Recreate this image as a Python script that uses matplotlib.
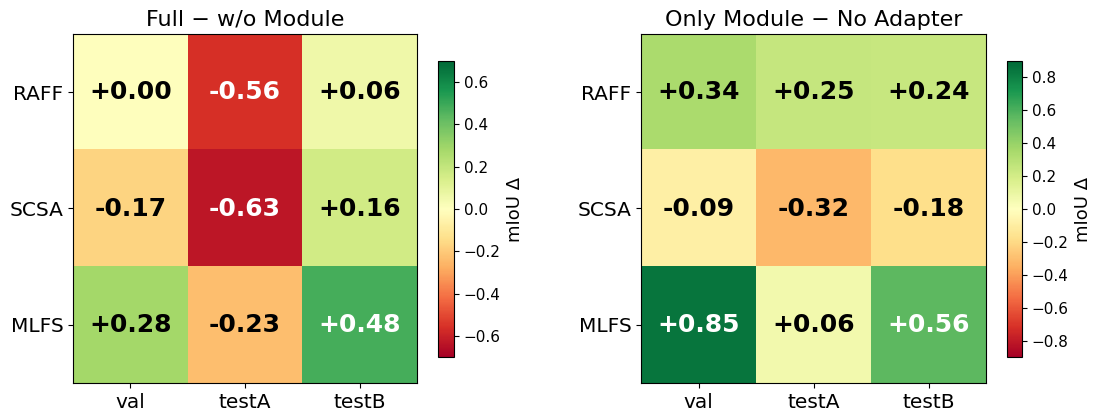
import numpy as np
import matplotlib
matplotlib.use("Agg")
import matplotlib.pyplot as plt

ROWS = ["RAFF", "SCSA", "MLFS"]
COLS = ["val", "testA", "testB"]
TITLES = ["Full \u2212 w/o Module", "Only Module \u2212 No Adapter"]
FULL_MINUS_WO = [[0.00, -0.56, 0.06],
                 [-0.17, -0.63, 0.16],
                 [0.28, -0.23, 0.48]]
ONLY_MINUS_NO = [[0.34, 0.25, 0.24],
                 [-0.09, -0.32, -0.18],
                 [0.85, 0.06, 0.56]]

W, H = 1096, 419
fig = plt.figure(figsize=(W / 100, H / 100), dpi=100)


def px(x0, y0, x1, y1):
    return [x0 / W, 1 - y1 / H, (x1 - x0) / W, (y1 - y0) / H]


boxes = [(px(73, 34, 417, 383), px(438, 61, 454, 357)),
         (px(641, 34, 986, 383), px(1007, 61, 1022, 357))]

for data, title, (abox, cbox) in zip([FULL_MINUS_WO, ONLY_MINUS_NO], TITLES, boxes):
    d = np.array(data)
    vmax = np.ceil(np.abs(d).max() * 10) / 10
    ax = fig.add_axes(abox)
    cax = fig.add_axes(cbox)
    im = ax.imshow(d, cmap="RdYlGn", vmin=-vmax, vmax=vmax, aspect="auto")
    for i in range(d.shape[0]):
        for j in range(d.shape[1]):
            v = d[i, j]
            ax.text(j, i, f"{v:+.2f}", ha="center", va="center",
                    fontsize=18, fontweight="bold",
                    color="white" if abs(v) > 0.5 * vmax else "black")
    ax.set_xticks(range(len(COLS)))
    ax.set_xticklabels(COLS, fontsize=14.5)
    ax.set_yticks(range(len(ROWS)))
    ax.set_yticklabels(ROWS, fontsize=14.5)
    ax.set_title(title, fontsize=16, pad=6)
    cb = fig.colorbar(im, cax=cax)
    cb.set_label("mIoU \u0394", fontsize=13)
    cb.ax.tick_params(labelsize=11)

fig.savefig("out.png", dpi=100)
